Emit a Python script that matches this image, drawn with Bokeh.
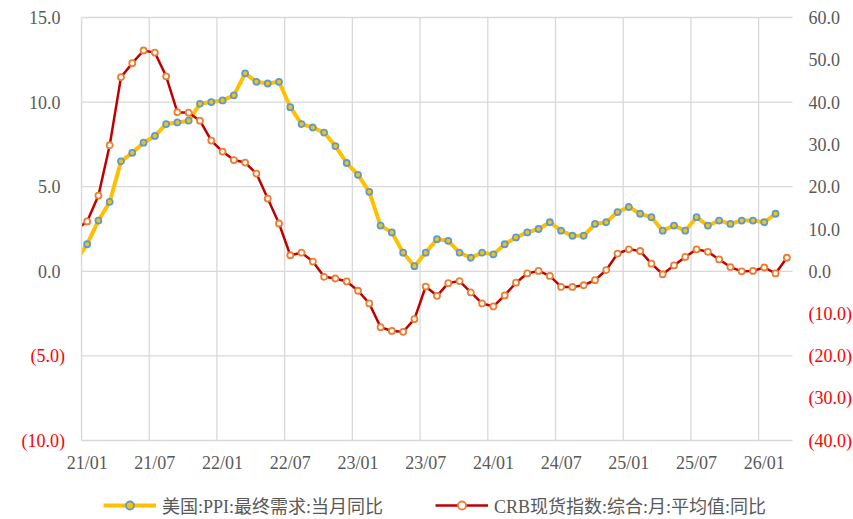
from bokeh.plotting import figure
from bokeh.models import Range1d, ColumnDataSource, Legend, LegendItem
from bokeh.core.properties import value
from bokeh.embed import file_html
from bokeh.resources import INLINE

# ---- data (monthly, 2020-12 .. 2026-03) ----
months = ["20/12"] + [f"{y:02d}/{m:02d}" for y in range(21, 27) for m in range(1, 13)]
months = months[:months.index("26/03") + 1]

ppi = [0.6,
       1.6, 3.0, 4.1, 6.5, 7.0, 7.6, 8.0, 8.7, 8.8, 8.9, 9.9, 10.0,
       10.1, 10.4, 11.7, 11.2, 11.1, 11.2, 9.7, 8.7, 8.5, 8.2, 7.4, 6.4,
       5.7, 4.7, 2.7, 2.3, 1.1, 0.3, 1.1, 1.9, 1.8, 1.1, 0.8, 1.1,
       1.0, 1.6, 2.0, 2.3, 2.5, 2.9, 2.4, 2.1, 2.1, 2.8, 2.9, 3.5,
       3.8, 3.4, 3.2, 2.4, 2.7, 2.4, 3.2, 2.7, 3.0, 2.8, 3.0, 3.0,
       2.9, 3.4, float("nan")]

crb = [9.8,
       11.8, 17.9, 29.8, 45.9, 49.2, 52.2, 51.7, 46.1, 37.6, 37.5, 35.6, 30.9,
       28.3, 26.3, 25.7, 23.1, 17.2, 11.3, 3.8, 4.4, 2.3, -1.3, -1.7, -2.4,
       -4.6, -7.6, -13.2, -14.1, -14.3, -11.3, -3.6, -5.8, -2.8, -2.3, -5.0, -7.6,
       -8.3, -5.7, -2.7, -0.5, 0.1, -1.1, -3.7, -3.7, -3.3, -2.1, 0.3, 4.2,
       5.2, 4.8, 1.8, -0.7, 1.4, 3.4, 5.2, 4.6, 2.8, 1.0, 0.0, 0.1,
       0.9, -0.5, 3.2]

x_labels = ["21/01", "21/07", "22/01", "22/07", "23/01", "23/07",
            "24/01", "24/07", "25/01", "25/07", "26/01"]
left_ticks = [-10, -5, 0, 5, 10, 15]
right_ticks = [-40, -30, -20, -10, 0, 10, 20, 30, 40, 50, 60]

name_ppi = "美国:PPI:最终需求:当月同比"
name_crb = "CRB现货指数:综合:月:平均值:同比"

# ---- layout constants (pixels) ----
W, H = 853, 519
L, R, T, B = 81, 792, 17, 440          # plot-area edges on the canvas

base = months.index("21/01")
xs = [i - base + 0.5 for i in range(len(months))]      # points at month centre
x0, x1 = 0, 63                                          # 21/01 .. 26/04 boundary
label_pos = [months.index(l) - base + 0.5 for l in x_labels]
grid_pos = [months.index(l) - base for l in x_labels]

ylo, yhi = left_ticks[0], left_ticks[-1]
rlo, rhi = right_ticks[0], right_ticks[-1]
sx = (R - L) / (x1 - x0)
sy = (B - T) / (yhi - ylo)
sr = (B - T) / (rhi - rlo)

xr = Range1d(x0 - L / sx, x1 + (W - R) / sx)
yr = Range1d(ylo - (H - B) / sy, yhi + T / sy)

GREY = "#595959"
RED = "#FF0000"
GRID = "#D9D9D9"
FONT = "Liberation Serif"

p = figure(width=W, height=H, x_range=xr, y_range=yr,
           output_backend="svg", toolbar_location=None,
           x_axis_location=None, y_axis_location=None,
           min_border=0)
p.extra_y_ranges = {"right": Range1d(rlo - (H - B) / sr, rhi + T / sr)}
p.outline_line_color = None
p.background_fill_color = "white"
p.border_fill_color = "white"
p.xgrid.visible = False
p.ygrid.visible = False

# grid lines inside the plot area
p.segment(x0=grid_pos, y0=ylo, x1=grid_pos, y1=yhi, line_color=GRID, line_width=1.3)
p.segment(x0=x0, y0=left_ticks, x1=x1, y1=left_ticks, line_color=GRID, line_width=1.3)

src = ColumnDataSource(dict(x=xs, ppi=ppi, crb=crb))

yl = p.line("x", "ppi", source=src, line_color="#FFC000", line_width=4,
            line_join="round")
ys = p.scatter("x", "ppi", source=src, size=6, fill_color="#FFC000",
               line_color="#5B9BD5", line_width=1.8)
rl = p.line("x", "crb", source=src, line_color="#C00000", line_width=2.5,
            line_join="round", y_range_name="right")
rs = p.scatter("x", "crb", source=src, size=6, fill_color="white",
               line_color="#ED7D31", line_width=1.8, y_range_name="right")

# white mask left of the plot area (clips the 20/12 lead-in)
p.quad(left=xr.start, right=x0, bottom=yr.start, top=yr.end,
       fill_color="white", line_color=None)
p.segment(x0=x0, y0=ylo, x1=x0, y1=yhi, line_color=GRID, line_width=1.3)


def fmt(v):
    return f"({abs(v):.1f})" if v < 0 else f"{v:.1f}"


def tick_text(ticks, xpos, off, align, neg, **kw):
    sel = [t for t in ticks if (t < 0) == neg]
    p.text(x=[xpos] * len(sel), y=sel, text=[fmt(v) for v in sel],
           x_offset=off, text_align=align, text_baseline="middle",
           text_font=value(FONT), text_font_size="18px",
           text_color=RED if neg else GREY, **kw)


tick_text(left_ticks, x0, -21, "right", False)
tick_text(left_ticks, x0, -16.5, "right", True)
tick_text(right_ticks, x1, 16, "left", False, y_range_name="right")
tick_text(right_ticks, x1, 16, "left", True, y_range_name="right")

# x tick labels
p.text(x=label_pos, y=[ylo] * len(label_pos), text=x_labels, y_offset=22,
       text_align="center", text_baseline="middle",
       text_font=value(FONT), text_font_size="18px", text_color=GREY)

legend = Legend(items=[LegendItem(label=name_ppi, renderers=[yl, ys]),
                       LegendItem(label=name_crb, renderers=[rl, rs])],
                location=(103, 1), orientation="horizontal",
                padding=0, margin=0, spacing=52, label_standoff=6,
                glyph_width=53, glyph_height=20,
                label_text_font="Liberation Serif, Noto Sans CJK SC",
                label_text_font_size="18px", label_text_color=GREY,
                background_fill_alpha=0, border_line_color=None)
p.add_layout(legend)

open("out.html", "w").write(file_html(p, INLINE))
